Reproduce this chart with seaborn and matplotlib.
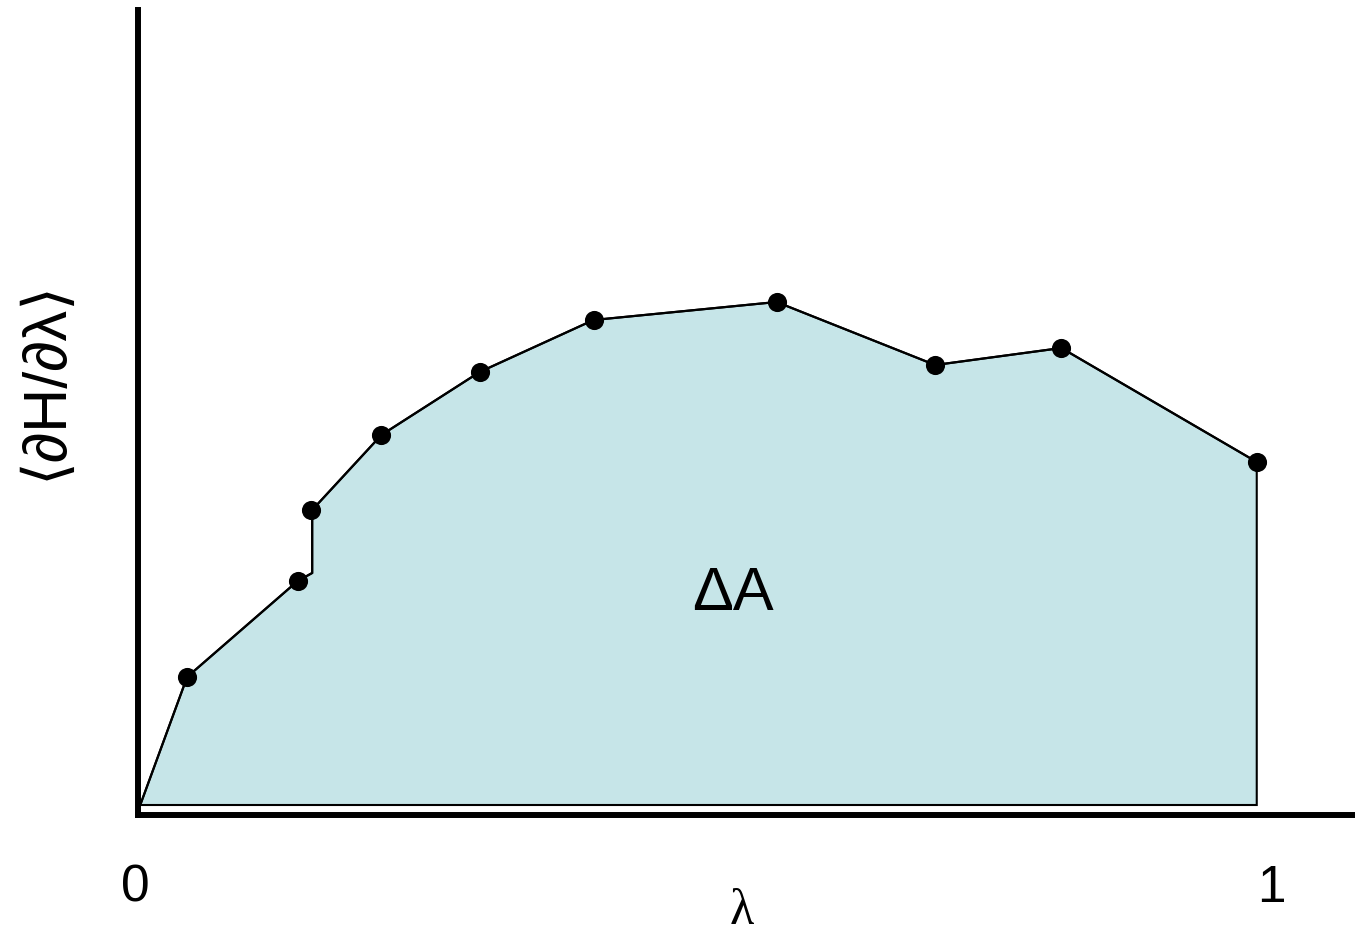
import matplotlib
matplotlib.use("Agg")
import matplotlib.pyplot as plt
import seaborn as sns
import pandas as pd

# sampled lambda windows and their <dH/dlambda> averages (arbitrary units)
lam_pts = [0.042, 0.141, 0.153, 0.216, 0.304, 0.406, 0.570, 0.712, 0.825, 1.0]
dhdl_pts = [1.28, 2.24, 2.95, 3.70, 4.33, 4.85, 5.03, 4.40, 4.57, 3.43]

# outline of the integrated area (includes start, the step corner and end)
curve_lam = [0.0, 0.042, 0.141, 0.154, 0.154, 0.216, 0.304, 0.406, 0.570, 0.712, 0.825, 1.0]
curve_val = [0.0, 1.28, 2.24, 2.32, 2.95, 3.70, 4.33, 4.85, 5.03, 4.40, 4.57, 3.43]

fill_color = "#C6E5E8"

sns.set_style("white")
plt.rcParams["font.family"] = ["Liberation Sans", "DejaVu Sans"]
plt.rcParams["text.color"] = "black"

fig = plt.figure(figsize=(13.55, 9.39), dpi=100)
ax = fig.add_axes([138 / 1355, 124 / 939, 1 - 138 / 1355, 805 / 939])

# shaded area = Delta A
poly_x = curve_lam + [curve_lam[-1], curve_lam[0]]
poly_y = curve_val + [0.0, 0.0]
ax.fill(poly_x, poly_y, facecolor=fill_color, edgecolor="black", linewidth=1.5, zorder=1)

curve = pd.DataFrame({"lam": curve_lam, "val": curve_val})
sns.lineplot(data=curve, x="lam", y="val", sort=False, estimator=None,
             color="black", linewidth=1.6, ax=ax, zorder=2)

pts = pd.DataFrame({"lam": lam_pts, "val": dhdl_pts})
sns.scatterplot(data=pts, x="lam", y="val", color="black", s=190,
                edgecolor="black", linewidth=0, ax=ax, zorder=3)

ax.set_xlim(-0.002, 1.088)
ax.set_ylim(-0.10, 7.95)
ax.set_xticks([])
ax.set_yticks([])
ax.set_xlabel("")
ax.set_ylabel("")
for side in ["top", "right"]:
    ax.spines[side].set_visible(False)
for side in ["left", "bottom"]:
    ax.spines[side].set_linewidth(4.3)
    ax.spines[side].set_color("black")

ax.text(0.531, 2.1, "ΔA", fontsize=44, ha="center", va="center", color="black")

trans = ax.get_xaxis_transform()
ax.text(-0.004, -0.091, "0", fontsize=37, ha="center", va="center",
        transform=trans, clip_on=False, color="black")
ax.text(1.013, -0.091, "1", fontsize=37, ha="center", va="center",
        transform=trans, clip_on=False, color="black")

fig.text(742 / 1355, 1 - 889 / 939, "λ", fontsize=36, ha="center", va="top",
         family=["Liberation Serif", "DejaVu Serif"], color="black")
fig.text(46 / 1355, 1 - 380 / 939, "⟨∂H/∂λ⟩", fontsize=44, rotation=90,
         ha="center", va="center", color="black")

fig.savefig("out.png", dpi=100)
